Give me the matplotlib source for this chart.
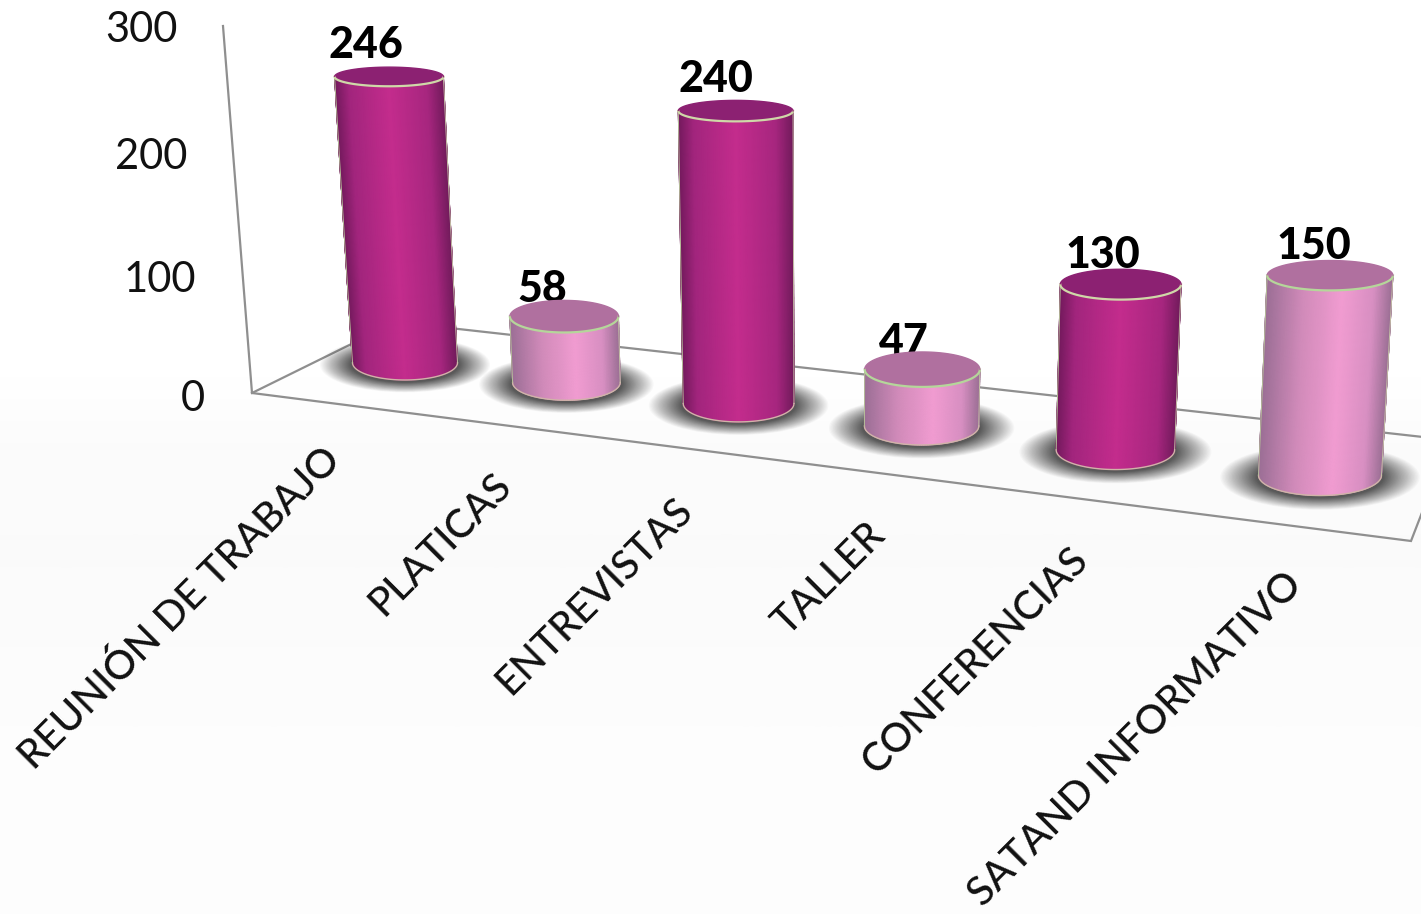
import numpy as np
import matplotlib
matplotlib.use("Agg")
import matplotlib.pyplot as plt
from matplotlib.colors import LinearSegmentedColormap
from matplotlib.patches import Polygon, Ellipse

# ---- data ----
categories = ["REUNIÓN DE TRABAJO", "PLATICAS", "ENTREVISTAS", "TALLER",
              "CONFERENCIAS", "SATAND INFORMATIVO"]
values = [246, 58, 240, 47, 130, 150]
y_ticks = [0, 100, 200, 300]
series_shade = ["dark", "light", "dark", "light", "dark", "light"]

# ---- style ----
plt.rcParams["font.family"] = ["Lato", "DejaVu Sans"]
W, H = 1421, 914
FONT_TICK = 30
FONT_VAL = 31
FONT_CAT = 29
GREY = "#8f8f8f"
shades = {
    "dark": dict(cmap=[(0, "#741a5d"), (.13, "#a2257d"), (.5, "#c42c8d"),
                       (.85, "#a7267f"), (1, "#741b5d")],
                 top="#8c2172", rim="#cfd8a8"),
    "light": dict(cmap=[(0, "#9c6f96"), (.28, "#d08ab9"), (.6, "#f19cd1"),
                        (.85, "#d88fc2"), (1, "#9d7096")],
                  top="#b0709f", rim="#b5d69a"),
}


# ---- simple perspective scale: category slot + value -> picture position ----
def base_x(i): return 405 + 156 * i + 5.4 * i ** 2
def base_y(i): return 362.7 + 19 * i + 0.7 * i ** 2
def half_w(i): return 52.5 + 1.2 * i + 0.12 * i ** 2
def lean(i): return -0.065 + 0.0264 * i
def rise(i, v): return (1.155 + 0.022 * i + 0.0035 * i ** 2) * v * (0.95 + 0.00023 * v)
def semi_b(y): return 0.027 * y + 7.5


fig = plt.figure(figsize=(W / 100, H / 100), dpi=100, facecolor="white")
ax = fig.add_axes([0, 0, 1, 1])
ax.set_axis_off()

# faint page background
grad = np.array([1, 1, 1, 1, .982, .98, .985, .99, .992]).reshape(-1, 1)
ax.imshow(grad, extent=(0, W, H, 0), cmap="gray", vmin=0, vmax=1, aspect="auto",
          zorder=0, interpolation="bilinear")

# floor and wall lines
corner = (252, 393)
for xs, ys in [((223, corner[0], 1411, 1423), (26, corner[1], 541, 510)),
               ((corner[0], 396, 1423), (corner[1], 322, 437))]:
    ax.plot(xs, ys, color=GREY, lw=1.6, zorder=1, solid_joinstyle="miter")

# soft shadows: stacked translucent ellipses, outermost first
N_RINGS = 26
coverage = np.linspace(0, 0.97, N_RINGS + 1)
layer_alpha = 1 - (1 - coverage[1:]) / (1 - coverage[:-1])
for i in range(len(values)):
    cx, cy, a = base_x(i), base_y(i) + 2, half_w(i)
    A, B = 1.62 * a, 1.6 * semi_b(base_y(i))
    for k, s in enumerate(np.linspace(1.0, 0.64, N_RINGS)):
        ax.add_patch(Ellipse((cx, cy), 2 * A * s, 2 * B * s, facecolor="#555555",
                             edgecolor="none", alpha=layer_alpha[k], zorder=2))

# value labels (sit behind the cylinder caps)
for i, v in enumerate(values):
    ax.text(base_x(i) + lean(i) * v - 23 + 1.4 * i, base_y(i) - rise(i, v) - 26 - 0.025 * v, str(v),
            fontsize=FONT_VAL, fontweight="black", color="black",
            ha="center", va="center", zorder=3)

# cylinders
theta = np.linspace(-np.pi / 2, np.pi / 2, 81)
for i, v in enumerate(values):
    style = shades[series_shade[i]]
    cmap = LinearSegmentedColormap.from_list("c", style["cmap"])
    t = np.linspace(0, 1, 25)
    cy_t = base_y(i) - rise(i, v * t)
    cx_t = base_x(i) + lean(i) * v * t
    a_t = half_w(i) * (1 + 0.00015 * v * t)
    b_t = semi_b(cy_t)
    U = np.sin(theta)
    X = cx_t[:, None] + a_t[:, None] * U[None, :]
    Y = cy_t[:, None] + b_t[:, None] * np.cos(theta)[None, :]
    C = np.repeat(((U + 1) / 2)[None, :], len(t), axis=0)
    z = 4 + i
    ax.pcolormesh(X, Y, C, cmap=cmap, vmin=0, vmax=1, shading="gouraud", zorder=z)
    # side and bottom outline
    ax.plot(X[0], Y[0], color="#d0b4a8", lw=1.0, zorder=z + .1)
    ax.plot(X[:, 0], Y[:, 0], color="#b6bf9a", lw=0.7, zorder=z + .1)
    ax.plot(X[:, -1], Y[:, -1], color="#c4c0a6", lw=0.7, zorder=z + .1)
    # cap
    ang = np.linspace(0, 2 * np.pi, 121)
    cap_x = cx_t[-1] + a_t[-1] * np.cos(ang)
    cap_y = cy_t[-1] + b_t[-1] * np.sin(ang)
    ax.add_patch(Polygon(np.c_[cap_x, cap_y], closed=True, facecolor=style["top"],
                         edgecolor="none", zorder=z + .2))
    front = ang <= np.pi
    ax.plot(cap_x[front], cap_y[front], color=style["rim"], lw=1.6, zorder=z + .3)
    ax.plot(cap_x[~front], cap_y[~front], color=style["top"], lw=1.0, zorder=z + .3)

# y tick labels
for v in y_ticks:
    ax.text(205 - v / 300 * 27, 399 - 1.17 * v - 0.0002 * v ** 2, str(v), fontsize=FONT_TICK,
            color="#111111", ha="right", va="center", zorder=3)

# category labels
for i, name in enumerate(categories):
    ax.text(base_x(i) - 71 + 9.4 * i, 454 + 25 * i, name, fontsize=FONT_CAT, fontweight="medium",
            color="#111111", rotation=45, rotation_mode="anchor", ha="right", va="center", zorder=3)

ax.set_xlim(0, W)
ax.set_ylim(H, 0)
fig.savefig("out.png", dpi=100)
